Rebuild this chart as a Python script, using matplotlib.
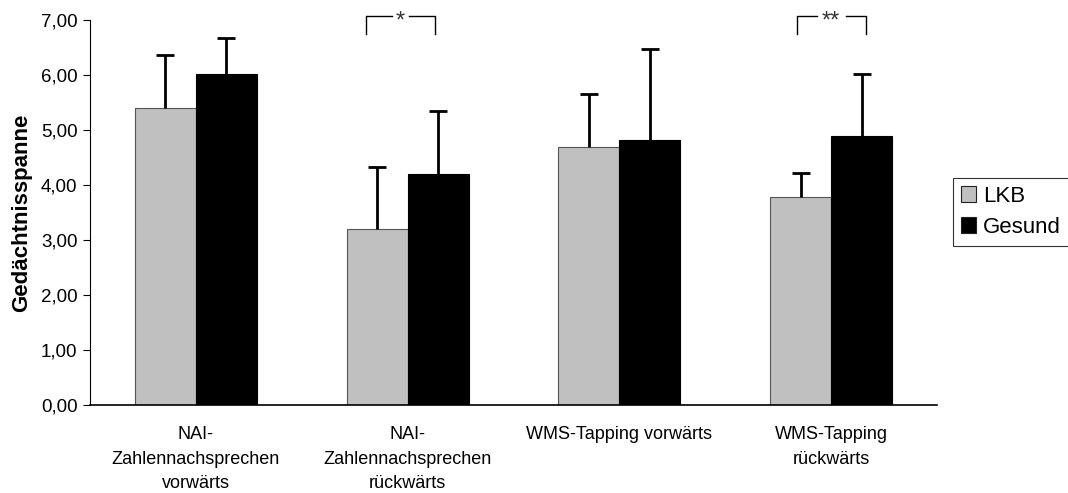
import matplotlib
matplotlib.use("Agg")
import matplotlib.pyplot as plt
import numpy as np

plt.rcParams['font.family'] = ['Liberation Sans', 'DejaVu Sans']

categories = ["NAI-\nZahlennachsprechen\nvorwärts",
              "NAI-\nZahlennachsprechen\nrückwärts",
              "WMS-Tapping vorwärts",
              "WMS-Tapping\nrückwärts"]
lkb_mean = [5.40, 3.20, 4.70, 3.79]
lkb_sd = [0.96, 1.13, 0.95, 0.43]
ges_mean = [6.01, 4.20, 4.81, 4.90]
ges_sd = [0.66, 1.15, 1.67, 1.11]
series_names = ["LKB", "Gesund"]
sig_labels = ["*", "**"]
sig_left = [1.302, 3.337]
sig_right = [1.631, 3.663]
sig_top = [7.07, 7.07]
sig_leg = [6.75, 6.75]
yticks = [0, 1, 2, 3, 4, 5, 6, 7]

fig = plt.figure(figsize=(10.68, 4.93), dpi=100)
ax = fig.add_axes([90/1068, 1-405/493, (937-90)/1068, (405-20)/493])

x = np.arange(len(categories)) + 0.5
w = 0.288
ax.bar(x - w/2, lkb_mean, w, color='#C0C0C0', edgecolor='#555555', linewidth=0.8,
       label=series_names[0], zorder=2)
ax.bar(x + w/2, ges_mean, w, color='black', edgecolor='black', linewidth=0.8,
       label=series_names[1], zorder=2)
for xs, m, s in [(x - w/2, lkb_mean, lkb_sd), (x + w/2, ges_mean, ges_sd)]:
    eb = ax.errorbar(xs, m, yerr=[np.zeros(len(s)), s], fmt='none', ecolor='black',
                     elinewidth=2, capsize=6.5, capthick=2, zorder=3)
    eb[1][0].set_visible(False)

ax.set_xlim(0, len(categories))
ax.set_ylim(0, 7)
ax.set_yticks(yticks)
ax.set_yticklabels([f"{v:.2f}".replace('.', ',') for v in yticks], fontsize=13.5)
ax.set_xticks(x)
ax.set_xticklabels(categories, fontsize=13, linespacing=1.6)
ax.tick_params(axis='x', length=0, pad=15)
ax.tick_params(axis='y', length=5, direction='out', width=0.8, pad=4)
for s in ['top', 'right']:
    ax.spines[s].set_visible(False)
ax.spines['left'].set_linewidth(0.8)
ax.spines['bottom'].set_linewidth(1.2)
ax.set_ylabel("Gedächtnisspanne", fontsize=16, fontweight='bold', labelpad=6)

for lab, xl, xr, yt, yl in zip(sig_labels, sig_left, sig_right, sig_top, sig_leg):
    xm = (xl + xr) / 2
    half = 0.04 + 0.028 * (len(lab) - 1)
    ax.plot([xl, xl, xm - half], [yl, yt, yt], color='black', lw=1, clip_on=False)
    ax.plot([xm + half, xr, xr], [yt, yt, yl], color='black', lw=1, clip_on=False)
    ax.text(xm, yt - 0.1, lab, ha='center', va='center', fontsize=17,
            color='#333333', clip_on=False)

leg = fig.legend(loc='upper left', bbox_to_anchor=(953/1068, 1-178/493), fontsize=16,
                 frameon=True, fancybox=False, edgecolor='black', handlelength=0.7,
                 handleheight=0.7, handletextpad=0.3, borderpad=0.35, labelspacing=0.45,
                 borderaxespad=0)
leg.get_frame().set_linewidth(0.8)
for h in leg.legend_handles:
    h.set_edgecolor('#222222')

fig.savefig("out.png", dpi=100)
